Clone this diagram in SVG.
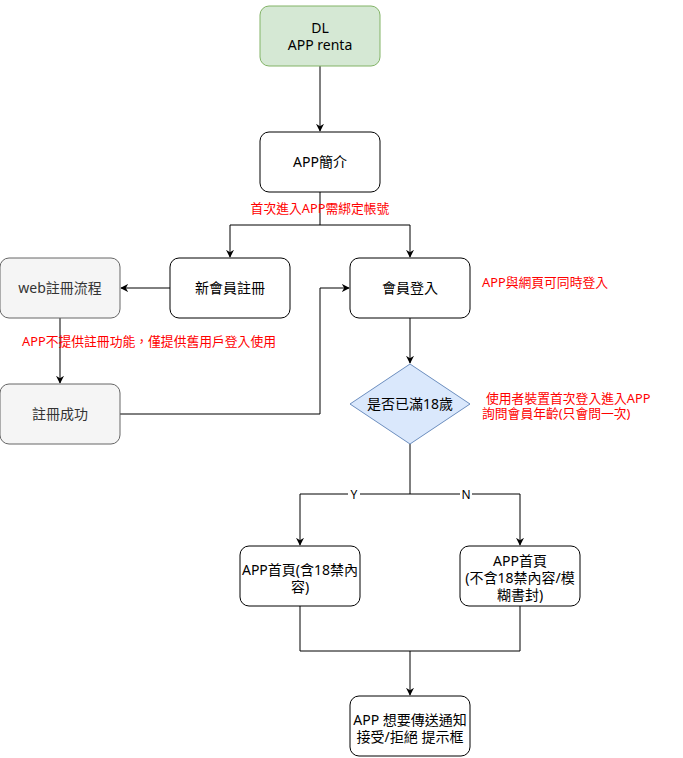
<svg xmlns="http://www.w3.org/2000/svg" width="683" height="758" viewBox="0 0 683 758">
<defs>
<marker id="arr" viewBox="0 0 10 10" refX="9" refY="5" markerWidth="8" markerHeight="8" markerUnits="userSpaceOnUse" orient="auto">
<path d="M0,0 L10,5 L0,10 L3,5 Z" fill="#000"/>
</marker>
<style>
text{font-family:"Noto Sans","Noto Sans CJK TC",sans-serif;font-size:14px;text-anchor:middle;fill:#000}
.n{fill:#fff;stroke:#000;stroke-width:1}
.g{fill:#f5f5f5;stroke:#666;stroke-width:1}
.gt{fill:#333}
.c{fill:none;stroke:#000;stroke-width:1}
.r{fill:#ff0000;font-size:12.8px}
.l{text-anchor:start}
.s{font-size:12px}
</style>
</defs>
<rect width="683" height="758" fill="#fff"/>
<g id="connectors">
<path class="c" d="M320,66 V131" marker-end="url(#arr)"/>
<path class="c" d="M320,192 V225 H230 V257" marker-end="url(#arr)"/>
<path class="c" d="M320,225 H410 V257" marker-end="url(#arr)"/>
<path class="c" d="M170,288 H121" marker-end="url(#arr)"/>
<path class="c" d="M60,318 V383" marker-end="url(#arr)"/>
<path class="c" d="M120,414 H320 V288 H349" marker-end="url(#arr)"/>
<path class="c" d="M410,318 V363" marker-end="url(#arr)"/>
<path class="c" d="M410,444 V494 H300 V545" marker-end="url(#arr)"/>
<path class="c" d="M410,494 H520 V545" marker-end="url(#arr)"/>
<path class="c" d="M300,606 V651 H520 V606"/>
<path class="c" d="M410,651 V695" marker-end="url(#arr)"/>
<rect x="348" y="487" width="12" height="14" fill="#fff"/>
<text class="s" x="354" y="499">Y</text>
<rect x="460" y="487" width="12" height="14" fill="#fff"/>
<text class="s" x="466" y="499">N</text>
</g>
<g id="dl">
<rect x="260" y="6" width="120" height="60" rx="9" fill="#d5e8d4" stroke="#82b366"/>
<text x="320" y="33">DL<tspan x="320" dy="17">APP renta</tspan></text>
</g>
<g id="intro">
<rect class="n" x="260" y="132" width="120" height="60" rx="9"/>
<text x="320" y="167">APP簡介</text>
</g>
<text class="r" x="320" y="212.5">首次進入APP需綁定帳號</text>
<g id="web">
<rect class="g" x="0" y="258" width="120" height="60" rx="9"/>
<text class="gt" x="60" y="293">web註冊流程</text>
</g>
<g id="newmember">
<rect class="n" x="170" y="258" width="120" height="60" rx="9"/>
<text x="230" y="293">新會員註冊</text>
</g>
<g id="login">
<rect class="n" x="350" y="258" width="120" height="60" rx="9"/>
<text x="410" y="293">會員登入</text>
</g>
<text class="r l" x="482" y="286.5">APP與網頁可同時登入</text>
<text class="r l" x="22" y="345.5">APP不提供註冊功能，僅提供舊用戶登入使用</text>
<g id="regok">
<rect class="g" x="0" y="384" width="120" height="60" rx="9"/>
<text class="gt" x="60" y="419">註冊成功</text>
</g>
<g id="age">
<path d="M410,364 L470,404 L410,444 L350,404 Z" fill="#dae8fc" stroke="#6c8ebf"/>
<text x="410" y="409">是否已滿18歲</text>
</g>
<text class="r l" x="486" y="402.5">使用者裝置首次登入進入APP<tspan x="482" dy="15">詢問會員年齡(只會問一次)</tspan></text>
<g id="home18">
<rect class="n" x="240" y="546" width="120" height="60" rx="9"/>
<text x="300" y="575">APP首頁(含18禁內<tspan x="300" dy="17">容)</tspan></text>
</g>
<g id="homesafe">
<rect class="n" x="460" y="546" width="120" height="60" rx="9"/>
<text x="520" y="566">APP首頁<tspan x="520" dy="17">(不含18禁內容/模</tspan><tspan x="520" dy="17">糊書封)</tspan></text>
</g>
<g id="notify">
<rect class="n" x="350" y="696" width="120" height="60" rx="9"/>
<text x="410" y="725">APP 想要傳送通知<tspan x="410" dy="17">接受/拒絕 提示框</tspan></text>
</g>
</svg>
